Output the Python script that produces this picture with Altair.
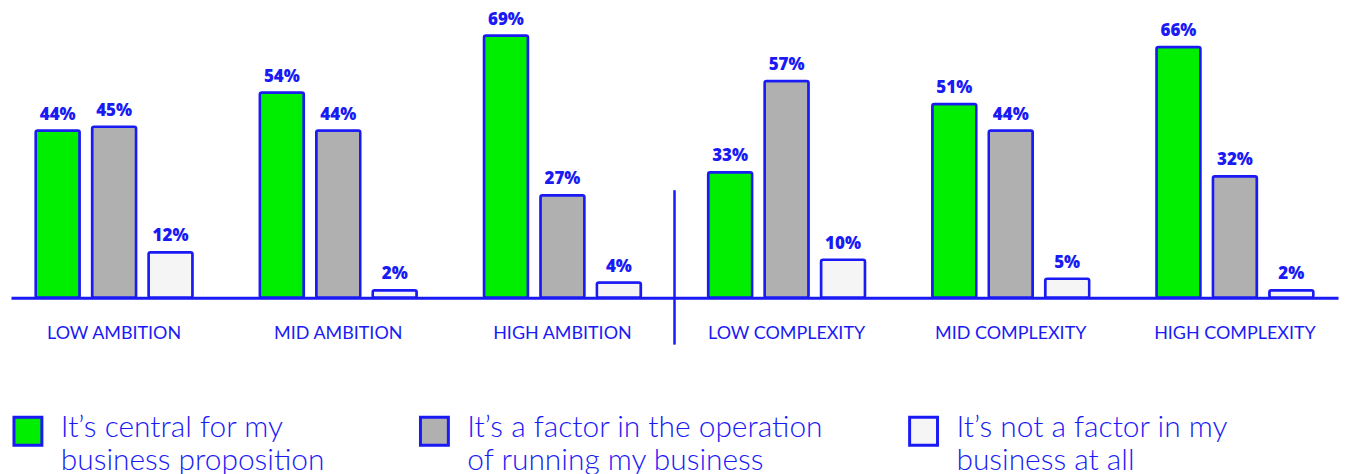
import altair as alt
import pandas as pd

groups = ["LOW AMBITION", "MID AMBITION", "HIGH AMBITION",
          "LOW COMPLEXITY", "MID COMPLEXITY", "HIGH COMPLEXITY"]
series = ["central", "factor", "not"]
central = [44, 54, 69, 33, 51, 66]
factor = [45, 44, 27, 57, 44, 32]
not_factor = [12, 2, 4, 10, 5, 2]
legend_labels = ["It’s central for my\nbusiness proposition",
                 "It’s a factor in the operation\nof running my business",
                 "It’s not a factor in my\nbusiness at all"]
colors = ["#00ee00", "#b0b0b0", "#f5f5f5"]
BLUE = "#1a1af5"

rows = []
for i, g in enumerate(groups):
    for s, vals in zip(series, [central, factor, not_factor]):
        rows.append({"group": g, "series": s, "value": vals[i], "label": f"{vals[i]}%"})
df = pd.DataFrame(rows)

W = 1332
H = 290

base = alt.Chart(df).encode(
    x=alt.X("group:N", sort=groups, title=None,
            scale=alt.Scale(paddingInner=0.3, paddingOuter=0.11),
            axis=alt.Axis(labelFontSize=18, labelColor=BLUE, labelFont="Lato",
                          ticks=False, domainColor=BLUE, domainWidth=3,
                          labelPadding=27, labelAngle=0)),
    xOffset=alt.XOffset("series:N", sort=series,
                        scale=alt.Scale(paddingInner=0.22, paddingOuter=0)),
    y=alt.Y("value:Q", scale=alt.Scale(domain=[0, 76]), axis=None),
)

bars = base.mark_bar(stroke=BLUE, strokeWidth=2.5, cornerRadius=2).encode(
    color=alt.Color("series:N", scale=alt.Scale(domain=series, range=colors), legend=None)
)
labels = base.mark_text(dy=-16, fontWeight=800, fontSize=17, color=BLUE,
                        font="Open Sans").encode(text="label:N")

divider = alt.Chart(pd.DataFrame({"d": [0]})).mark_rule(
    color=BLUE, strokeWidth=2.5
).encode(x=alt.value(W / 2), y=alt.value(182), y2=alt.value(337))

main = alt.layer(bars, labels, divider).properties(width=W, height=H)

ldf = pd.DataFrame({"series": series, "text": legend_labels})
items = []
for s, w in zip(series, [405, 488, 439]):
    sq = alt.Chart(ldf).transform_filter(alt.datum.series == s).mark_square(
        size=784, stroke=BLUE, strokeWidth=3, filled=True, opacity=1
    ).encode(
        x=alt.value(17), y=alt.value(21),
        color=alt.Color("series:N", scale=alt.Scale(domain=series, range=colors), legend=None),
    )
    tx = alt.Chart(ldf).transform_filter(alt.datum.series == s).mark_text(
        align="left", baseline="top", fontSize=30, lineBreak="\n", lineHeight=33,
        color=BLUE, font="Lato", fontWeight=300
    ).encode(x=alt.value(50), y=alt.value(3), text="text:N")
    items.append(alt.layer(sq, tx).properties(width=w, height=70))
legend = alt.hconcat(*items, spacing=0)

chart = alt.vconcat(main, legend, spacing=64).properties(padding=0).configure_view(stroke=None)
chart.save("out.html", embed_options={"renderer": "svg", "actions": False})
